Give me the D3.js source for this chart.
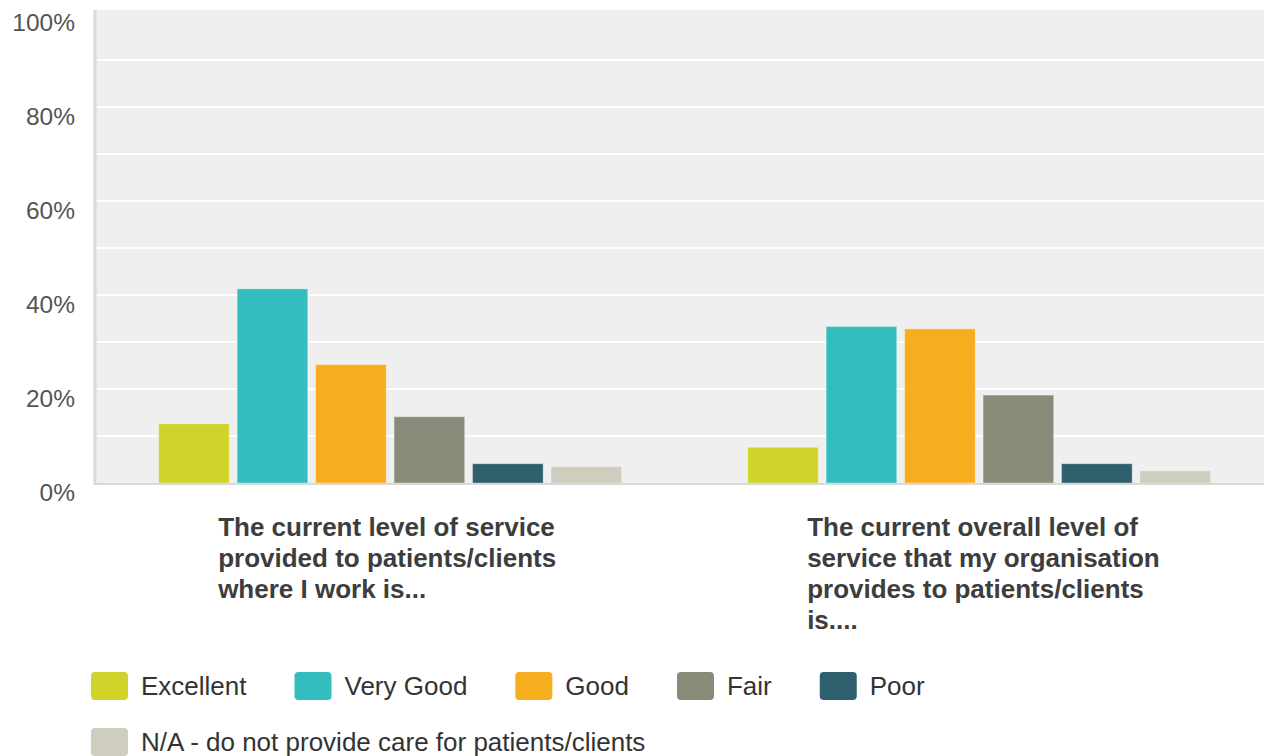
<!DOCTYPE html>
<html>
  <head>
    <meta charset="utf-8">
    <title>Level of service</title>
    <script src="https://d3js.org/d3.v7.min.js"></script>
    <style>
      body { margin: 0; background: #fff; }
      svg { display: block; font-family: "Liberation Sans", Arial, sans-serif; }
    </style>
  </head>
  <body>
    <svg id="svg" width="1264" height="756"></svg>
    <script>
      // data
      var questions = ["current", "overall"];
      var questionLines = [
        ["The current level of service", "provided to patients/clients", "where I work is..."],
        ["The current overall level of", "service that my organisation", "provides to patients/clients", "is...."]
      ];
      var answers = ["Excellent", "Very Good", "Good", "Fair", "Poor", "N/A - do not provide care for patients/clients"];
      var colours = ["#d0d42a", "#33bdbf", "#f6ae1f", "#8a8a78", "#2e5f6c", "#cfcdbd"];
      var currentValues = [12.6, 41.3, 25.2, 14.1, 4.1, 3.5];
      var overallValues = [7.6, 33.3, 32.8, 18.7, 4.1, 2.6];
      var yTicks = [0, 20, 40, 60, 80, 100];
      var gridTicks = [10, 20, 30, 40, 50, 60, 70, 80, 90];

      var values = [currentValues, overallValues];
      var svg = d3.select("#svg");
      var plotLeft = 96, plotRight = 1264, plotTop = 10, plotBottom = 483;

      // scales
      var y = d3.scaleLinear().domain([0, 100]).range([plotBottom, 13]);
      var x0 = d3.scaleBand().domain(questions).range([plotLeft, plotRight])
        .paddingInner(0.214).paddingOuter(0.0985).align(0.54);
      var x1 = d3.scaleBand().domain(answers).range([0, x0.bandwidth()])
        .paddingInner(0.1).paddingOuter(0);
      var colour = d3.scaleOrdinal().domain(answers).range(colours);

      // plot background and grid
      svg.append("rect")
        .attr("x", plotLeft).attr("y", plotTop)
        .attr("width", plotRight - plotLeft).attr("height", plotBottom - plotTop)
        .attr("fill", "#efefef");
      svg.append("g")
        .selectAll("line")
          .data(gridTicks)
        .enter().append("line")
          .attr("x1", plotLeft).attr("x2", plotRight)
          .attr("y1", function(d) { return y(d); })
          .attr("y2", function(d) { return y(d); })
          .attr("stroke", "#fff")
          .attr("stroke-width", 2);
      svg.append("line")
        .attr("x1", plotLeft - 1).attr("x2", plotLeft - 1)
        .attr("y1", plotTop).attr("y2", plotBottom + 2)
        .attr("stroke", "#d9d9d9").attr("stroke-width", 3);

      // y axis labels
      var yAxis = d3.axisLeft(y)
        .tickValues(yTicks)
        .tickSize(0)
        .tickPadding(0)
        .tickFormat(function(d) { return d + "%"; });
      var yAxisGroup = svg.append("g")
        .attr("transform", "translate(75, 10)")
        .call(yAxis);
      yAxisGroup.select(".domain").remove();
      yAxisGroup.selectAll("text")
        .attr("fill", "#555")
        .attr("font-size", 24.5)
        .attr("font-family", "Liberation Sans, Arial, sans-serif");

      // bars
      var groups = svg.append("g")
        .selectAll("g")
          .data(questions)
        .enter().append("g")
          .attr("transform", function(d) { return "translate(" + x0(d) + ",0)"; });
      groups.selectAll("rect")
          .data(function(d, i) { return answers.map(function(a, j) { return { answer: a, value: values[i][j] }; }); })
        .enter().append("rect")
          .attr("x", function(d) { return x1(d.answer); })
          .attr("y", function(d) { return y(d.value); })
          .attr("width", x1.bandwidth())
          .attr("height", function(d) { return plotBottom - y(d.value); })
          .attr("fill", function(d) { return colour(d.answer); })
          .attr("stroke", "rgba(255,255,255,0.35)")
          .attr("stroke-width", 1);

      // baseline
      svg.append("line")
        .attr("x1", plotLeft - 2).attr("x2", plotRight)
        .attr("y1", plotBottom + 1).attr("y2", plotBottom + 1)
        .attr("stroke", "#d9d9d9").attr("stroke-width", 2);

      // category labels
      groups.append("text")
        .attr("y", 536)
        .attr("fill", "#3d3d3d")
        .attr("font-size", 26)
        .attr("font-weight", "bold")
        .selectAll("tspan")
          .data(function(d, i) { return questionLines[i]; })
        .enter().append("tspan")
          .attr("x", x0.bandwidth() / 2 - 172)
          .attr("dy", function(d, i) { return i ? 31 : 0; })
          .text(function(d) { return d; });

      // legend
      var legend = svg.append("g");
      var lx = 91, ly = 672;
      answers.forEach(function(a) {
        var item = legend.append("g");
        item.append("rect")
          .attr("width", 37).attr("height", 28)
          .attr("rx", 4)
          .attr("fill", colour(a));
        var t = item.append("text")
          .attr("x", 50).attr("y", 23)
          .attr("fill", "#333")
          .attr("font-size", 26)
          .text(a);
        var w = 50 + t.node().getComputedTextLength();
        if (lx + w > 1200) { lx = 91; ly += 56; }
        item.attr("transform", "translate(" + lx + "," + ly + ")");
        lx += w + 48;
      });
    </script>
  </body>
</html>
